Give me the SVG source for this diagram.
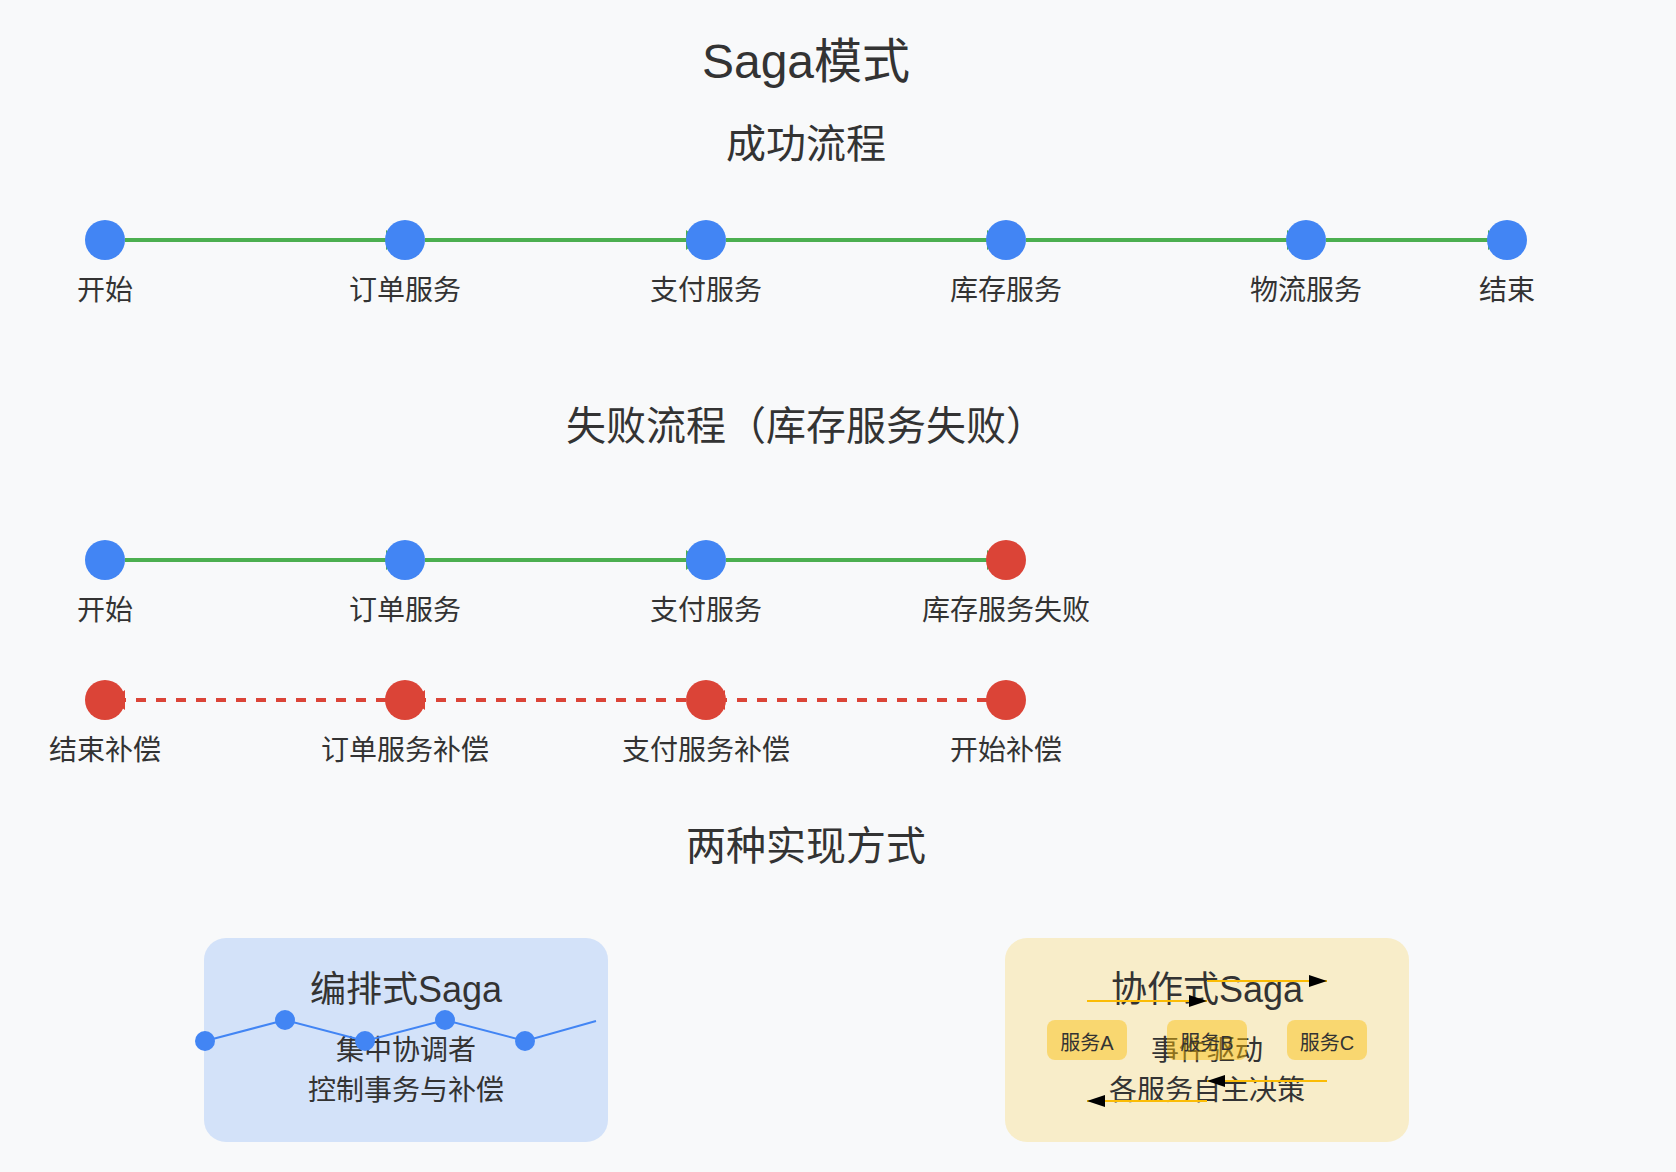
<svg xmlns="http://www.w3.org/2000/svg" width="1676" height="1172" viewBox="0 0 1676 1172">
<defs>
<style>
text{font-family:"Liberation Sans","Noto Sans CJK SC",sans-serif;fill:#333;text-anchor:middle}
.title{font-size:48px}
.sec{font-size:40px}
.lbl{font-size:28px}
.btitle{font-size:36px}
.svc{font-size:20px}
.ok{stroke:#4CAF50;stroke-width:4;fill:none}
.comp{stroke:#DB4437;stroke-width:4;stroke-dasharray:10 10;fill:none}
.ev{stroke:#FBBC05;stroke-width:2;fill:none}
.blue{fill:#4285F4}
.red{fill:#DB4437}
</style>
<marker id="ag" markerUnits="userSpaceOnUse" markerWidth="14" markerHeight="20" refX="0" refY="10" orient="auto"><path d="M0,0 L14,10 L0,20 z" fill="#4CAF50"/></marker>
<marker id="ar" markerUnits="userSpaceOnUse" markerWidth="14" markerHeight="20" refX="0" refY="10" orient="auto"><path d="M0,0 L14,10 L0,20 z" fill="#DB4437"/></marker>
<marker id="ak" markerUnits="userSpaceOnUse" markerWidth="18" markerHeight="12" refX="18" refY="6" orient="auto"><path d="M0,0 L18,6 L0,12 z" fill="#000"/></marker>
</defs>
<rect width="1676" height="1172" fill="#f8f9fa"/>
<text class="title" x="806" y="78">Saga模式</text>
<text class="sec" x="806" y="158">成功流程</text>
<text class="sec" x="806" y="440">失败流程（库存服务失败）</text>
<text class="sec" x="806" y="860">两种实现方式</text>

<g id="connectors">
<line class="ok" x1="125" y1="240" x2="386" y2="240" marker-end="url(#ag)"/>
<line class="ok" x1="425" y1="240" x2="686" y2="240" marker-end="url(#ag)"/>
<line class="ok" x1="726" y1="240" x2="987" y2="240" marker-end="url(#ag)"/>
<line class="ok" x1="1026" y1="240" x2="1287" y2="240" marker-end="url(#ag)"/>
<line class="ok" x1="1326" y1="240" x2="1488" y2="240" marker-end="url(#ag)"/>
<line class="ok" x1="125" y1="560" x2="386" y2="560" marker-end="url(#ag)"/>
<line class="ok" x1="425" y1="560" x2="686" y2="560" marker-end="url(#ag)"/>
<line class="ok" x1="726" y1="560" x2="987" y2="560" marker-end="url(#ag)"/>
<line class="comp" x1="987" y1="700" x2="725" y2="700" marker-end="url(#ar)"/>
<line class="comp" x1="686" y1="700" x2="425" y2="700" marker-end="url(#ar)"/>
<line class="comp" x1="386" y1="700" x2="125" y2="700" marker-end="url(#ar)"/>
</g>

<g id="s-start"><circle class="blue" cx="105" cy="240" r="20"/><text class="lbl" x="105" y="300">开始</text></g>
<g id="s-order"><circle class="blue" cx="405" cy="240" r="20"/><text class="lbl" x="405" y="300">订单服务</text></g>
<g id="s-pay"><circle class="blue" cx="706" cy="240" r="20"/><text class="lbl" x="706" y="300">支付服务</text></g>
<g id="s-stock"><circle class="blue" cx="1006" cy="240" r="20"/><text class="lbl" x="1006" y="300">库存服务</text></g>
<g id="s-ship"><circle class="blue" cx="1306" cy="240" r="20"/><text class="lbl" x="1306" y="300">物流服务</text></g>
<g id="s-end"><circle class="blue" cx="1507" cy="240" r="20"/><text class="lbl" x="1507" y="300">结束</text></g>

<g id="f-start"><circle class="blue" cx="105" cy="560" r="20"/><text class="lbl" x="105" y="620">开始</text></g>
<g id="f-order"><circle class="blue" cx="405" cy="560" r="20"/><text class="lbl" x="405" y="620">订单服务</text></g>
<g id="f-pay"><circle class="blue" cx="706" cy="560" r="20"/><text class="lbl" x="706" y="620">支付服务</text></g>
<g id="f-stock"><circle class="red" cx="1006" cy="560" r="20"/><text class="lbl" x="1006" y="620">库存服务失败</text></g>

<g id="c-end"><circle class="red" cx="105" cy="700" r="20"/><text class="lbl" x="105" y="760">结束补偿</text></g>
<g id="c-order"><circle class="red" cx="405" cy="700" r="20"/><text class="lbl" x="405" y="760">订单服务补偿</text></g>
<g id="c-pay"><circle class="red" cx="706" cy="700" r="20"/><text class="lbl" x="706" y="760">支付服务补偿</text></g>
<g id="c-start"><circle class="red" cx="1006" cy="700" r="20"/><text class="lbl" x="1006" y="760">开始补偿</text></g>

<g id="orchestration">
<rect x="204" y="938" width="404" height="204" rx="22" fill="#4285F4" fill-opacity="0.2"/>
<text class="btitle" x="406" y="1002">编排式Saga</text>
<text class="lbl" x="406" y="1060">集中协调者</text>
<text class="lbl" x="406" y="1100">控制事务与补偿</text>
<polyline points="205,1041 285,1020 365,1041 445,1020 525,1041 596,1021" fill="none" stroke="#4285F4" stroke-width="2"/>
<circle class="blue" cx="205" cy="1041" r="10"/>
<circle class="blue" cx="285" cy="1020" r="10"/>
<circle class="blue" cx="365" cy="1041" r="10"/>
<circle class="blue" cx="445" cy="1020" r="10"/>
<circle class="blue" cx="525" cy="1041" r="10"/>
</g>

<g id="choreography">
<rect x="1005" y="938" width="404" height="204" rx="22" fill="#FBBC05" fill-opacity="0.2"/>
<text class="btitle" x="1207" y="1002">协作式Saga</text>
<text class="lbl" x="1207" y="1060">事件驱动</text>
<text class="lbl" x="1207" y="1100">各服务自主决策</text>
<g id="svc-a"><rect x="1047" y="1020" width="80" height="40" rx="8" fill="#FBBC05" fill-opacity="0.45"/><text class="svc" x="1087" y="1050">服务A</text></g>
<g id="svc-b"><rect x="1167" y="1020" width="80" height="40" rx="8" fill="#FBBC05" fill-opacity="0.45"/><text class="svc" x="1207" y="1050">服务B</text></g>
<g id="svc-c"><rect x="1287" y="1020" width="80" height="40" rx="8" fill="#FBBC05" fill-opacity="0.45"/><text class="svc" x="1327" y="1050">服务C</text></g>
<g id="events">
<line class="ev" x1="1087" y1="1001" x2="1207" y2="1001" marker-end="url(#ak)"/>
<line class="ev" x1="1207" y1="981" x2="1327" y2="981" marker-end="url(#ak)"/>
<line class="ev" x1="1327" y1="1081" x2="1207" y2="1081" marker-end="url(#ak)"/>
<line class="ev" x1="1207" y1="1101" x2="1087" y2="1101" marker-end="url(#ak)"/>
</g>
</g>
</svg>
